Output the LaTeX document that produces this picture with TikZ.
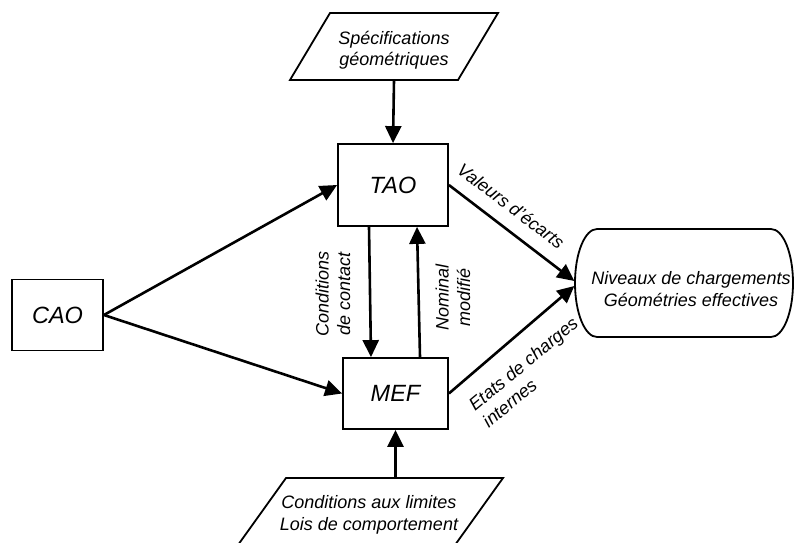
\documentclass[tikz,border=0pt]{standalone}
\usepackage{fontspec}
\setmainfont{Liberation Sans}
\usetikzlibrary{arrows.meta,calc}
\begin{document}
\begin{tikzpicture}[x=1pt,y=-1pt,
  box/.style={draw, line width=1.8pt, inner sep=0pt, font=\fontsize{23.5}{28}\selectfont\itshape},
  lbl/.style={font=\fontsize{18}{21.5}\selectfont\itshape, align=center, inner sep=0pt},
  arr/.style={line width=2.6pt, -{Triangle[length=17pt,width=16pt]}},
  frame/.style={line width=1.8pt, line join=miter}]
\useasboundingbox (0,0) rectangle (795,543);

% boxes
\node[box, minimum width=91pt, minimum height=71pt] (cao) at (57.5,315) {CAO};
\node[box, minimum width=110pt, minimum height=82pt] (tao) at (393,185) {TAO};
\node[box, minimum width=105pt, minimum height=71pt] (mef) at (395.5,393.5) {MEF};

% top parallelogram
\draw[frame] (290,80) -- (330,13) -- (498,13) -- (458,80) -- cycle;
\node[inner sep=0pt, minimum width=128pt, minimum height=67pt] (spec) at (394,46.5) {};
\node[lbl] (spectxt) at (394,50) {Spécifications\\géométriques};

% bottom parallelogram
\draw[frame] (286,478) -- (503,478) -- (455,545) -- (238,545) -- cycle;
\node[inner sep=0pt, minimum width=170pt, minimum height=67pt] (lim) at (370.5,511.5) {};
\node[lbl] (limtxt) at (369,515) {Conditions aux limites\\Lois de comportement};

% result (stadium)
\draw[frame] (771,229) arc[start angle=-90,end angle=90,x radius=22,y radius=54]
  -- (597,337) arc[start angle=90,end angle=270,x radius=22,y radius=54] -- cycle;
\node[inner sep=0pt, minimum width=219pt, minimum height=108pt] (res) at (684,283) {};
\node[lbl] (restxt) at (691,289) {Niveaux de chargements\\Géométries effectives};

% connectors
\draw[arr] (cao.east) -- (tao.west);
\draw[arr] (cao.east) -- (mef.west);
\draw[arr] (spec.south) -- (tao.north);
\draw[arr] (lim.north -| mef.south) -- (mef.south);
\draw[arr] ([xshift=-24pt]tao.south) -- ([xshift=-24.5pt]mef.north);
\draw[arr] ([xshift=24.5pt]mef.north) -- ([xshift=24pt]tao.south);
\draw[arr] (tao.east) -- ($(res.west)+(0,-2)$);
\draw[arr] (mef.east) -- ($(res.west)+(0,3)$);

% connector labels
\node[lbl, rotate=-37] (val) at (511,206) {Valeurs d’écarts};
\node[lbl, rotate=39.6, align=left] (eta) at (530,372) {Etats de charges\\internes};
\node[lbl, rotate=90] (cdc) at (333,294) {Conditions\\de contact};
\node[lbl, rotate=90] (nom) at (453,297) {Nominal\\modifié};
\end{tikzpicture}
\end{document}
